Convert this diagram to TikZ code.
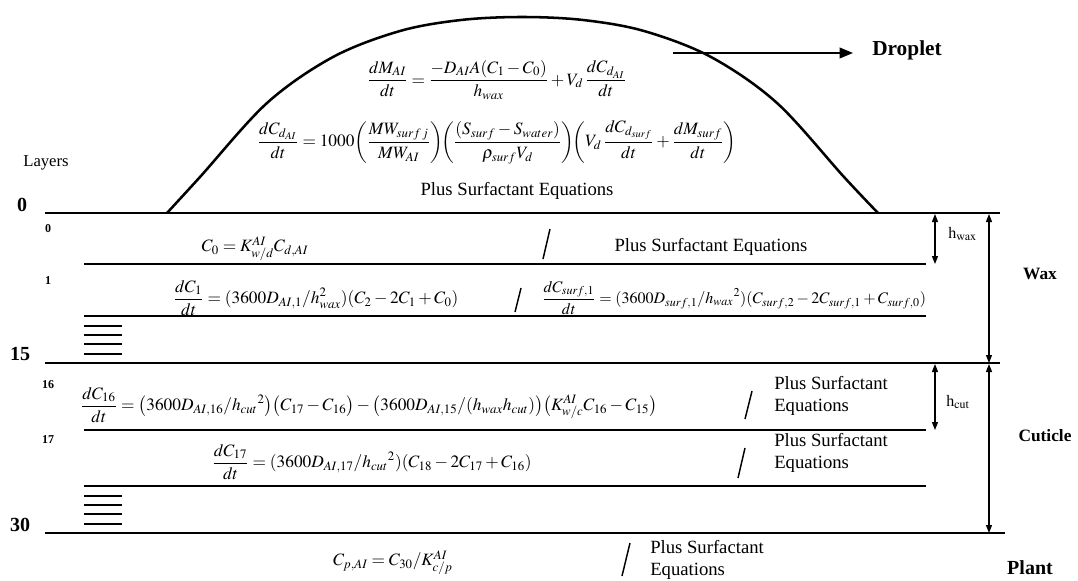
\documentclass[tikz,border=0pt]{standalone}
\usepackage{mathptmx}
\usepackage{fontspec}
\setmainfont{Liberation Serif}
\usetikzlibrary{arrows.meta}
\begin{document}
\begin{tikzpicture}[x=0.75pt,y=-0.75pt,
  thickline/.style={line width=2.2pt},
  thinline/.style={line width=1.1pt},
  hatchline/.style={line width=1.1pt},
  slashline/.style={line width=1.1pt},
  dimarrow/.style={line width=0.9pt,{Triangle[length=6pt,width=4.5pt]}-{Triangle[length=6pt,width=4.5pt]}},
  droparrow/.style={line width=1.1pt,-{Triangle[length=10pt,width=8pt]}},
  eq/.style={font=\fontsize{13}{15}\selectfont, inner sep=0pt},
  eqsmall/.style={font=\fontsize{12}{14}\selectfont, inner sep=0pt},
  txt/.style={font=\fontsize{14}{16}\selectfont, inner sep=0pt},
  txttwo/.style={font=\fontsize{14}{17}\selectfont, inner sep=0pt, align=left, anchor=west},
  bigno/.style={font=\fontsize{15}{17}\selectfont\bfseries, inner sep=0pt},
  smallno/.style={font=\fontsize{9}{11}\selectfont\bfseries, inner sep=0pt},
  region/.style={font=\fontsize{13}{15}\selectfont\bfseries, inner sep=0pt},
  hlabel/.style={font=\fontsize{12}{14}\selectfont, inner sep=0pt, anchor=west}
]
\useasboundingbox (0,0) rectangle (1078,581);

% droplet outline
\draw[line width=1.9pt] plot[smooth, tension=0.55] coordinates {(167,213) (200,177) (267,103) (333,57) (400,31) (461,20) (522,17) (583,20) (644,31) (711,57) (777,103) (844,177) (878,213)};

% droplet arrow and label
\node[font=\fontsize{16}{18}\selectfont\bfseries, inner sep=0pt] (drop) at (907,50) {Droplet};
\coordinate (da) at (673,53);
\coordinate (de) at (853,53);
\draw[droparrow] (da) -- (de);
% droplet equations
\node[eq] (e1) at (497,80) {$\displaystyle \frac{dM_{AI}}{dt}=\frac{-D_{AI}A(C_1-C_0)}{h_{wax}}+V_d\,\frac{dC_{d_{AI}}}{dt}$};
\node[eq] (e2) at (497,142) {$\displaystyle \frac{dC_{d_{AI}}}{dt}=1000\biggl(\frac{MW_{surf\,j}}{MW_{AI}}\biggr)\!\biggl(\frac{(S_{surf}-S_{water})}{\rho_{surf}V_d}\biggr)\!\biggl(V_d\,\frac{dC_{d_{surf}}}{dt}+\frac{dM_{surf}}{dt}\biggr)$};
\node[txt] (pse) at (517,191) {Plus Surfactant Equations};

% layer labels
\node[font=\fontsize{12.5}{14}\selectfont, inner sep=0pt] (layers) at (46,163) {Layers};
\node[bigno] (n0) at (22,205) {0};
\node[bigno] (n15) at (20,354) {15};
\node[bigno] (n30) at (20,525) {30};
\node[smallno] (s0) at (48,229) {0};
\node[smallno] (s1) at (48,281) {1};
\node[smallno] (s16) at (48,385) {16};
\node[smallno] (s17) at (48,440) {17};

% main layer lines
\coordinate (L0a) at (45,213);  \coordinate (L0b) at (1000,213);
\coordinate (L15a) at (45,363); \coordinate (L15b) at (1000,363);
\coordinate (L30a) at (45,533); \coordinate (L30b) at (1005,533);
\draw[thickline] (L0a) -- (L0b);
\draw[thickline] (L15a) -- (L15b);
\draw[thickline] (L30a) -- (L30b);
% thin sub-layer lines
\foreach \y/\n in {264/a,316/b,430/c,486/d}{
  \coordinate (t\n1) at (84,\y); \coordinate (t\n2) at (926,\y);
  \draw[thinline] (t\n1) -- (t\n2);
}
% hatch marks
\foreach \y in {326,335,344,354,496,505,514,524}{
  \draw[hatchline] (84,\y) -- (122,\y);
}

% row 0
\node[eq] (c0) at (255,249) {$C_0=K^{AI}_{w/d}C_{d,AI}$};
\draw[slashline] (543,259) -- (550,229);
\node[txt] (p0) at (711,247) {Plus Surfactant Equations};
% row 1
\node[eq] (c1) at (316,298) {$\displaystyle\frac{dC_1}{dt}=(3600D_{AI,1}/h^2_{wax})(C_2-2C_1+C_0)$};
\draw[slashline] (515,312) -- (521,288);
\node[eqsmall] (cs1) at (734,298) {$\displaystyle\frac{dC_{surf,1}}{dt}=(3600D_{surf,1}/h_{wax}{}^2)(C_{surf,2}-2C_{surf,1}+C_{surf,0})$};
% row 16
\node[eq] (c16) at (369,405) {$\displaystyle\frac{dC_{16}}{dt}=\bigl(3600D_{AI,16}/h_{cut}{}^2\bigr)\bigl(C_{17}-C_{16}\bigr)-\bigl(3600D_{AI,15}/(h_{wax}h_{cut})\bigr)\bigl(K^{AI}_{w/c}C_{16}-C_{15}\bigr)$};
\draw[slashline] (745,419) -- (752,391);
\node[txttwo] (p16) at (774,396) {Plus Surfactant\\ Equations};
% row 17
\node[eq] (c17) at (372,462) {$\displaystyle\frac{dC_{17}}{dt}=(3600D_{AI,17}/h_{cut}{}^2)(C_{18}-2C_{17}+C_{16})$};
\draw[slashline] (738,478) -- (745,448);
\node[txttwo] (p17) at (774,453) {Plus Surfactant\\ Equations};
% plant row
\node[eq] (cp) at (393,563) {$C_{p,AI}=C_{30}/K^{AI}_{c/p}$};
\draw[slashline] (622,576) -- (630,543);
\node[txttwo] (pp) at (650,560) {Plus Surfactant\\ Equations};
\node[font=\fontsize{15}{17}\selectfont\bfseries, inner sep=0pt] (plant) at (1030,568) {Plant};

% dimension arrows
\coordinate (hw1) at (935,214); \coordinate (hw2) at (935,264);
\draw[dimarrow] (hw1) -- (hw2);
\node[hlabel] (hwl) at (948,234) {h$_{\mathrm{wax}}$};
\coordinate (hc1) at (935,364); \coordinate (hc2) at (935,430);
\draw[dimarrow] (hc1) -- (hc2);
\node[hlabel] (hcl) at (946,402) {h$_{\mathrm{cut}}$};
\coordinate (w1) at (989,214); \coordinate (w2) at (989,363);
\draw[dimarrow] (w1) -- (w2);
\coordinate (k1) at (989,364); \coordinate (k2) at (989,533);
\draw[dimarrow] (k1) -- (k2);
\node[region] (wax) at (1040,274) {Wax};
\node[region] (cut) at (1045,436) {Cuticle};
\end{tikzpicture}
\end{document}
